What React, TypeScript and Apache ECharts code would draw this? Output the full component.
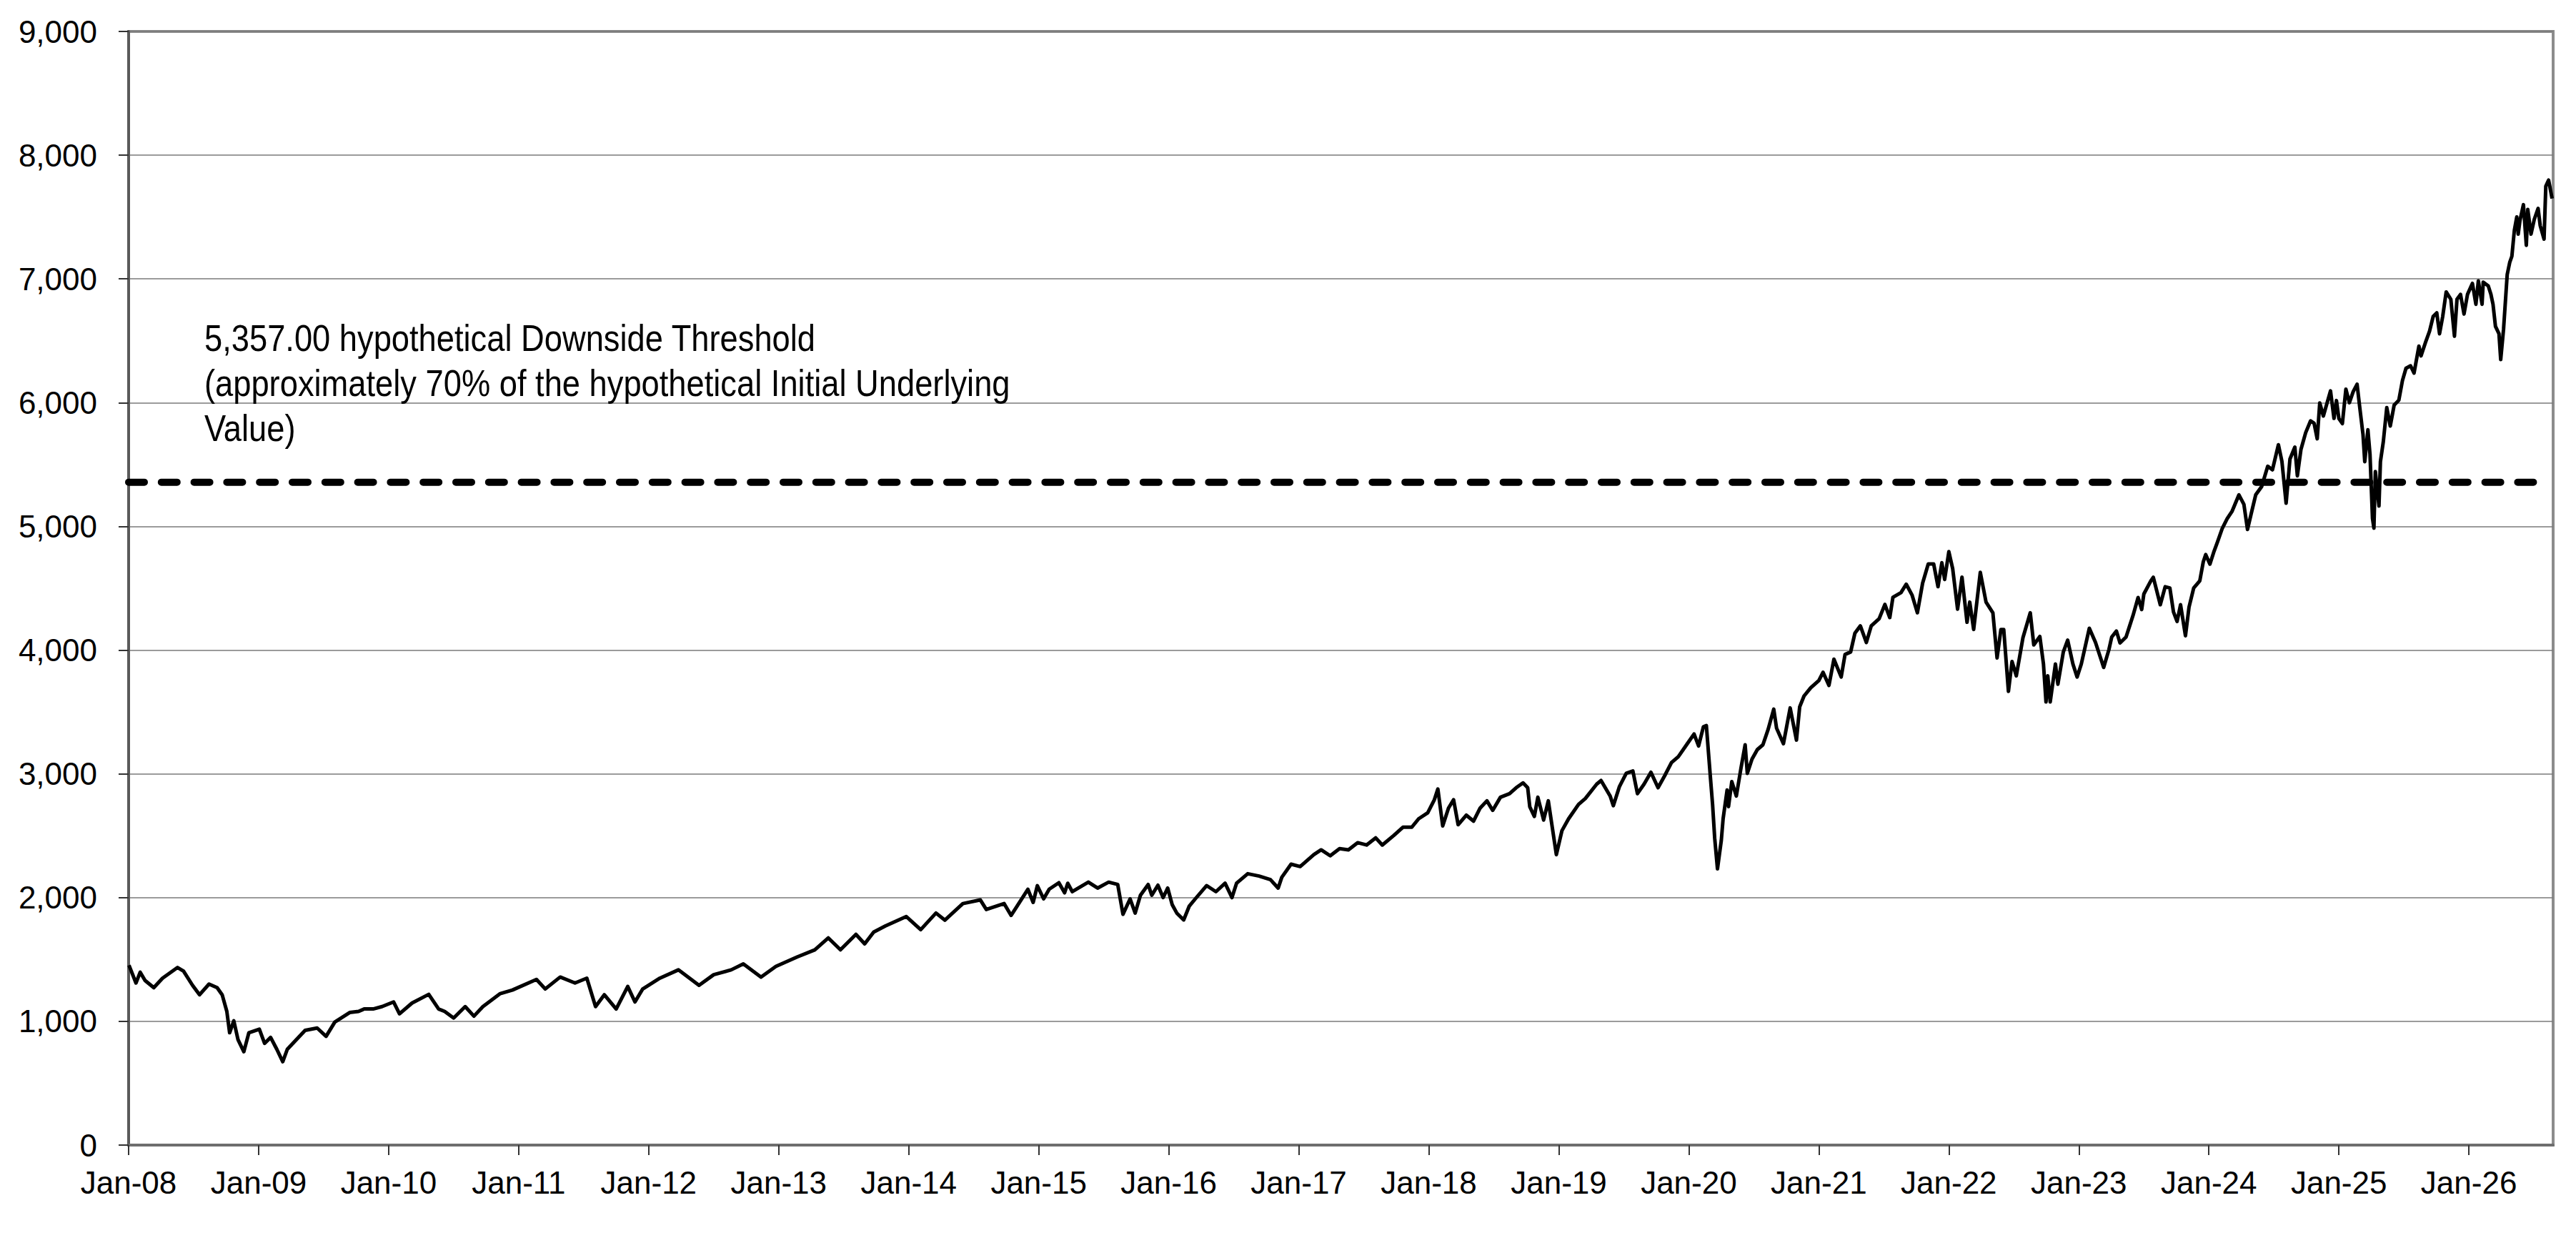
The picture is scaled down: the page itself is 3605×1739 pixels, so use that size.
import React, { useEffect, useRef } from "react";
import * as echarts from "echarts";

const dates: string[] = [
  "2008-01-02","2008-01-22","2008-02-03","2008-02-16","2008-03-11","2008-04-05","2008-05-17","2008-06-03","2008-06-28","2008-07-18",
  "2008-08-14","2008-09-06","2008-09-20","2008-10-03","2008-10-11","2008-10-23","2008-11-04","2008-11-20","2008-12-04","2009-01-03",
  "2009-01-18","2009-02-04","2009-02-20","2009-03-08","2009-03-21","2009-04-15","2009-05-10","2009-06-13","2009-07-08","2009-08-02",
  "2009-09-13","2009-10-08","2009-10-24","2009-11-18","2009-12-13","2010-01-15","2010-02-01","2010-03-06","2010-04-22","2010-05-20",
  "2010-06-06","2010-07-01","2010-08-03","2010-08-28","2010-09-22","2010-11-10","2010-12-14","2011-02-19","2011-03-15","2011-04-26",
  "2011-06-07","2011-07-10","2011-08-04","2011-08-29","2011-10-01","2011-11-03","2011-11-23","2011-12-15","2012-02-02","2012-03-24",
  "2012-05-21","2012-07-01","2012-08-20","2012-09-23","2012-11-12","2012-12-24","2013-02-21","2013-04-11","2013-05-19","2013-06-22",
  "2013-08-05","2013-08-30","2013-09-24","2013-10-27","2013-12-25","2014-02-04","2014-03-17","2014-04-11","2014-06-01","2014-07-20",
  "2014-08-06","2014-09-25","2014-10-15","2014-12-01","2014-12-16","2014-12-28","2015-01-15","2015-01-31","2015-02-25","2015-03-13",
  "2015-03-22","2015-04-04","2015-05-19","2015-06-14","2015-07-15","2015-08-10","2015-08-25","2015-09-14","2015-09-28","2015-10-13",
  "2015-11-04","2015-11-14","2015-12-01","2015-12-16","2015-12-29","2016-01-11","2016-01-24","2016-02-12","2016-02-27","2016-03-15",
  "2016-04-16","2016-05-12","2016-06-07","2016-06-26","2016-07-09","2016-08-10","2016-09-11","2016-10-13","2016-11-04","2016-11-14",
  "2016-12-10","2017-01-05","2017-02-12","2017-03-03","2017-03-29","2017-04-24","2017-05-19","2017-06-14","2017-07-09","2017-08-04",
  "2017-08-23","2017-09-24","2017-10-20","2017-11-14","2017-12-03","2017-12-29","2018-01-17","2018-01-27","2018-02-09","2018-02-24",
  "2018-03-10","2018-03-23","2018-04-15","2018-05-05","2018-05-24","2018-06-12","2018-06-28","2018-07-20","2018-08-15","2018-09-03",
  "2018-09-22","2018-10-05","2018-10-11","2018-10-24","2018-11-03","2018-11-19","2018-12-02","2018-12-25","2019-01-10","2019-01-29",
  "2019-02-24","2019-03-15","2019-04-16","2019-04-28","2019-05-24","2019-06-02","2019-06-19","2019-07-08","2019-07-27","2019-08-09",
  "2019-08-28","2019-09-16","2019-10-06","2019-10-25","2019-11-13","2019-12-02","2019-12-28","2020-01-16","2020-01-29","2020-02-11",
  "2020-02-19","2020-03-01","2020-03-07","2020-03-13","2020-03-21","2020-04-01","2020-04-06","2020-04-17","2020-04-21","2020-04-30",
  "2020-05-13","2020-05-26","2020-06-07","2020-06-13","2020-06-26","2020-07-11","2020-07-27","2020-08-11","2020-08-27","2020-09-04",
  "2020-09-23","2020-10-12","2020-10-30","2020-11-08","2020-11-20","2020-12-09","2021-01-01","2021-01-13","2021-01-30","2021-02-12",
  "2021-03-03","2021-03-14","2021-03-30","2021-04-11","2021-04-26","2021-05-13","2021-05-27","2021-06-18","2021-07-04","2021-07-18",
  "2021-07-27","2021-08-19","2021-09-03","2021-09-19","2021-10-04","2021-10-19","2021-11-04","2021-11-19","2021-12-01","2021-12-12",
  "2021-12-20","2022-01-01","2022-01-12","2022-01-26","2022-02-07","2022-02-20","2022-02-27","2022-03-10","2022-03-29","2022-04-14",
  "2022-05-03","2022-05-15","2022-05-26","2022-06-03","2022-06-16","2022-06-26","2022-07-08","2022-07-27","2022-08-17","2022-08-27",
  "2022-09-13","2022-09-23","2022-09-30","2022-10-05","2022-10-12","2022-10-27","2022-11-03","2022-11-18","2022-11-30","2022-12-15",
  "2022-12-27","2023-01-08","2023-01-31","2023-02-16","2023-03-10","2023-03-25","2023-04-02","2023-04-15","2023-04-25","2023-05-12",
  "2023-05-22","2023-06-01","2023-06-15","2023-06-25","2023-07-01","2023-07-21","2023-07-28","2023-08-17","2023-08-31","2023-09-13",
  "2023-09-23","2023-10-03","2023-10-13","2023-10-27","2023-11-06","2023-11-19","2023-12-06","2023-12-16","2023-12-23","2024-01-04",
  "2024-01-15","2024-01-25","2024-02-08","2024-02-21","2024-03-05","2024-03-25","2024-04-08","2024-04-18","2024-04-28","2024-05-11",
  "2024-05-28","2024-06-14","2024-06-27","2024-07-14","2024-07-24","2024-08-05","2024-08-16","2024-08-30","2024-09-06","2024-09-16",
  "2024-09-29","2024-10-13","2024-10-23","2024-11-01","2024-11-08","2024-11-18","2024-12-08","2024-12-18","2024-12-25","2025-01-01",
  "2025-01-11","2025-01-21","2025-01-31","2025-02-10","2025-02-20","2025-02-27","2025-03-08","2025-03-13","2025-03-22","2025-03-28",
  "2025-04-04","2025-04-08","2025-04-12","2025-04-22","2025-04-26","2025-05-04","2025-05-14","2025-05-24","2025-06-04","2025-06-17",
  "2025-06-27","2025-07-07","2025-07-20","2025-07-30","2025-08-13","2025-08-19","2025-09-02","2025-09-12","2025-09-22","2025-10-02",
  "2025-10-10","2025-10-19","2025-10-29","2025-11-11","2025-11-21","2025-11-28","2025-12-08","2025-12-18","2025-12-28","2026-01-11",
  "2026-01-21","2026-01-28","2026-02-07","2026-02-10","2026-02-23","2026-03-02","2026-03-08","2026-03-15","2026-03-25","2026-03-30",
  "2026-04-07","2026-04-12","2026-04-17","2026-04-24","2026-04-30","2026-05-07","2026-05-14","2026-05-18","2026-05-23","2026-06-02",
  "2026-06-10","2026-06-14","2026-06-23","2026-07-02","2026-07-13","2026-07-19","2026-07-30","2026-08-04","2026-08-12","2026-08-22",
];

const values: number[] = [
  1454,1310,1397,1330,1272,1349,1435,1406,1291,1215,
  1301,1272,1215,1080,908,1004,851,755,908,937,
  822,870,774,674,774,851,927,946,879,994,
  1071,1080,1100,1100,1119,1157,1061,1148,1218,1100,
  1080,1027,1119,1042,1119,1224,1253,1339,1262,1358,
  1310,1349,1119,1215,1100,1282,1157,1262,1349,1416,
  1291,1377,1416,1464,1358,1444,1521,1578,1674,1578,
  1703,1626,1722,1770,1847,1741,1875,1818,1952,1981,
  1904,1952,1856,2067,1961,2096,1990,2068,2120,2039,
  2116,2048,2125,2077,2125,2106,1865,1990,1875,2019,
  2106,2019,2100,2000,2077,1942,1875,1820,1932,1990,
  2097,2048,2116,2000,2116,2193,2174,2145,2077,2164,
  2270,2251,2347,2386,2338,2396,2386,2444,2425,2483,
  2425,2502,2569,2569,2637,2685,2791,2878,2579,2724,
  2791,2589,2666,2618,2724,2782,2705,2811,2840,2888,
  2927,2888,2734,2656,2811,2627,2782,2347,2541,2637,
  2753,2801,2917,2946,2820,2743,2898,3004,3023,2840,
  2917,3013,2888,2985,3091,3139,3245,3322,3226,3380,
  3390,2965,2753,2483,2232,2463,2638,2869,2735,2937,
  2821,3042,3235,3004,3119,3196,3235,3360,3523,3369,
  3244,3533,3273,3542,3629,3696,3754,3821,3715,3927,
  3783,3965,3985,4138,4196,4062,4196,4254,4369,4263,
  4427,4465,4533,4446,4302,4542,4696,4696,4513,4706,
  4571,4796,4658,4331,4590,4225,4388,4167,4629,4388,
  4302,3937,4167,4167,3667,3908,3792,4100,4302,4042,
  4110,3888,3581,3792,3581,3888,3725,3985,4081,3888,
  3783,3888,4177,4062,3860,4004,4106,4154,4058,4106,
  4193,4280,4425,4328,4454,4560,4589,4367,4512,4502,
  4309,4232,4367,4116,4347,4502,4560,4714,4772,4695,
  4792,4869,4985,5062,5120,5255,5178,4975,5100,5255,
  5322,5486,5457,5660,5525,5187,5544,5641,5409,5622,
  5757,5853,5834,5708,5998,5892,6095,5873,6017,5871,
  5831,6109,6000,6089,6149,5960,5742,5523,5781,5583,
  5066,4986,5443,5165,5523,5682,5960,5811,5980,6020,
  6179,6278,6298,6239,6457,6378,6497,6577,6696,6726,
  6557,6696,6895,6835,6537,6835,6875,6716,6875,6964,
  6795,6984,6795,6974,6944,6875,6795,6616,6557,6348,
  6596,6815,7034,7133,7183,7392,7501,7362,7471,7600,
  7272,7561,7362,7481,7570,7431,7322,7749,7799,7650,
];

const xTickLabels: string[] = [
  "Jan-08","Jan-09","Jan-10","Jan-11","Jan-12","Jan-13","Jan-14","Jan-15","Jan-16","Jan-17",
  "Jan-18","Jan-19","Jan-20","Jan-21","Jan-22","Jan-23","Jan-24","Jan-25","Jan-26",
];

const axisStartDate = "2008-01-01";
const axisEndDate = "2026-08-25";

const thresholdValue = 5357;
const thresholdDates: string[] = ["2008-01-01", "2026-07-30"];

const thresholdLabel: string[] = [
  "5,357.00 hypothetical Downside Threshold",
  "(approximately 70% of the hypothetical Initial Underlying",
  "Value)",
];

const yMin = 0;
const yMax = 9000;
const yStep = 1000;

function monthIndex(s: string): number {
  const [y, m, d] = s.split("-").map(Number);
  const dim = new Date(Date.UTC(y, m, 0)).getUTCDate();
  return (y - 2008) * 12 + (m - 1) + (d - 1) / dim;
}

const FONT = "'Liberation Sans', Arial, Helvetica, sans-serif";

export default function App() {
  const ref = useRef<HTMLDivElement>(null);

  useEffect(() => {
    if (!ref.current) return;
    const chart = echarts.init(ref.current, undefined, { renderer: "svg" });

    const xMin = monthIndex(axisStartDate);
    const xMax = monthIndex(axisEndDate);
    const tickValues = xTickLabels.map((_, i) => xMin + i * 12);

    const lineData = dates.map((d, i) => [monthIndex(d), values[i]]);
    const thresholdData = thresholdDates.map((d) => [monthIndex(d), thresholdValue]);

    chart.setOption({
      animation: false,
      backgroundColor: "#ffffff",
      grid: {
        left: 180,
        right: 32,
        top: 44,
        bottom: 137,
        show: true,
        borderColor: "#8c8c8c",
        borderWidth: 4,
        backgroundColor: "transparent",
      },
      xAxis: {
        type: "value",
        min: xMin,
        max: xMax,
        interval: 12,
        axisLine: { show: true, onZero: false, lineStyle: { color: "#6e6e6e", width: 4 } },
        axisTick: {
          show: true,
          length: 14,
          customValues: tickValues,
          lineStyle: { color: "#333333", width: 2 },
        },
        axisLabel: {
          show: true,
          customValues: tickValues,
          margin: 30,
          fontSize: 44,
          color: "#000000",
          fontFamily: FONT,
          formatter: (v: number) => xTickLabels[Math.round((v - xMin) / 12)] ?? "",
        },
        splitLine: { show: false },
      },
      yAxis: {
        type: "value",
        min: yMin,
        max: yMax,
        interval: yStep,
        axisLine: { show: true, lineStyle: { color: "#5a5a5a", width: 4 } },
        axisTick: { show: true, length: 14, lineStyle: { color: "#333333", width: 2 } },
        axisLabel: {
          margin: 44,
          fontSize: 44,
          color: "#000000",
          fontFamily: FONT,
          formatter: (v: number) => v.toLocaleString("en-US"),
        },
        splitLine: { show: true, lineStyle: { color: "#7a7a7a", width: 1.5 } },
      },
      series: [
        {
          type: "line",
          data: lineData,
          showSymbol: false,
          symbol: "none",
          lineStyle: { color: "#000000", width: 5, join: "round" },
          z: 3,
        },
        {
          type: "line",
          data: thresholdData,
          showSymbol: false,
          symbol: "none",
          lineStyle: { color: "#000000", width: 10, type: [22, 23.8], cap: "round" },
          z: 4,
        },
      ],
      graphic: [
        {
          type: "text",
          x: 286,
          y: 442,
          scaleX: 0.888,
          z: 10,
          style: {
            text: thresholdLabel.join("\n"),
            fontSize: 51,
            lineHeight: 63,
            fill: "#000000",
            fontFamily: FONT,
            verticalAlign: "top",
            align: "left",
          },
        },
      ],
    });

    return () => {
      chart.dispose();
    };
  }, []);

  return (
    <div
      ref={ref}
      style={{ position: "absolute", left: 0, top: 0, width: 3605, height: 1739, background: "#ffffff" }}
    />
  );
}
